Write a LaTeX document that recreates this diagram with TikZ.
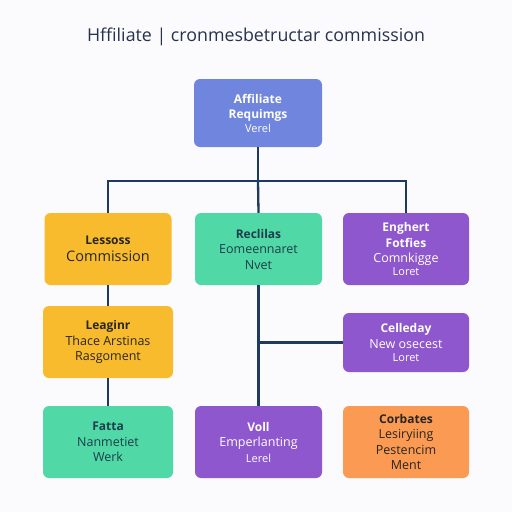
\documentclass[tikz,border=0pt]{standalone}
\usepackage{fontspec}
\setmainfont{Open Sans}
\usetikzlibrary{positioning}
\definecolor{chartbg}{RGB}{251, 250, 252}
\definecolor{linenavy}{RGB}{31, 58, 95}
\definecolor{titlenavy}{RGB}{38, 50, 78}
\definecolor{topblue}{RGB}{112, 134, 222}
\definecolor{boxyellow}{RGB}{249, 187, 46}
\definecolor{boxgreen}{RGB}{80, 216, 166}
\definecolor{boxpurple}{RGB}{142, 87, 205}
\definecolor{boxorange}{RGB}{251, 154, 82}
\definecolor{darktext}{RGB}{40, 38, 30}
\definecolor{tealtext}{RGB}{28, 62, 74}
\newcommand{\hd}[1]{\fontsize{12}{15.5}\selectfont\bfseries #1}
\newcommand{\bd}[1]{\fontsize{12.5}{15.5}\selectfont #1}
\newcommand{\sm}[1]{\fontsize{11}{15.5}\selectfont #1}

\begin{document}
\begin{tikzpicture}[x=1pt, y=-1pt,
    box/.style={rounded corners=6pt, inner sep=2pt, align=center,
        font=\fontsize{12.5}{15.5}\selectfont,
        minimum width=127pt, minimum height=72pt},
    link/.style={draw=linenavy, line width=2.3pt}]
            % Background
            \fill[chartbg] (0,0) rectangle (512,512);
            \useasboundingbox (0,0) rectangle (512,512);
            \node[text=titlenavy, font=\fontsize{17.8}{20}\selectfont] (title) at (256,37) {Hffiliate | cronmesbetructar commission};

            % Top level
            \node[box, fill=topblue, text=white, minimum width=128pt, minimum height=68pt] (top) at (258,113)
                {\hd{Affiliate}\\\hd{Requimgs}\\[-2pt]\sm{Verel}};

            % Second row
            \node[box, fill=boxyellow, text=darktext] (lessoss) at (108,249)
                {\hd{Lessoss}\\[2pt]\fontsize{14.5}{17}\selectfont Commission};
            \node[box, fill=boxgreen, text=tealtext] (reclilas) at (258.5,249)
                {\hd{Reclilas}\\\bd{Eomeennaret}\\\bd{Nvet}};
            \node[box, fill=boxpurple, text=white, minimum width=126pt] (engjhert) at (406,249)
                {\hd{Enghert}\\\hd{Fotfies}\\\bd{Comnkigge}\\[-3pt]\sm{Loret}};

            % Third row
            \node[box, fill=boxyellow, text=darktext, minimum width=130pt] (leaginr) at (108,342)
                {\hd{Leaginr}\\\bd{Thace Arstinas}\\\bd{Rasgoment}};
            \node[box, fill=boxpurple, text=white, minimum width=126pt, minimum height=59pt] (celleday) at (406,342.5)
                {\hd{Celleday}\\\bd{New osecest}\\[-2pt]\sm{Loret}};

            % Bottom row
            \node[box, fill=boxgreen, text=tealtext, minimum width=130pt] (fatta) at (108,442)
                {\hd{Fatta}\\\bd{Nanmetiet}\\\bd{Werk}};
            \node[box, fill=boxpurple, text=white] (voll) at (258.5,442)
                {\hd{Voll}\\\bd{Emperlanting}\\\sm{Lerel}};
            \node[box, fill=boxorange, text=darktext, minimum width=126pt] (corbates) at (406,442)
                {\hd{Corbates}\\\bd{Lesiryiing}\\\bd{Pestencim}\\\bd{Ment}};

            % Connectors
            \coordinate (bus) at (258,181);
            \draw[link] (top.south) -- (bus);
            \draw[link] (bus) -| (lessoss.north);
            \draw[link] (bus) -| (engjhert.north);
            \draw[link] (bus) -- (reclilas.north);
            \draw[link] (lessoss.south) -- (leaginr.north);
            \draw[link] (leaginr.south) -- (fatta.north);
            \draw[link] (reclilas.south) -- (voll.north);
            \draw[link] (reclilas.south |- celleday.west) -- (celleday.west);
        \end{tikzpicture}
\end{document}
